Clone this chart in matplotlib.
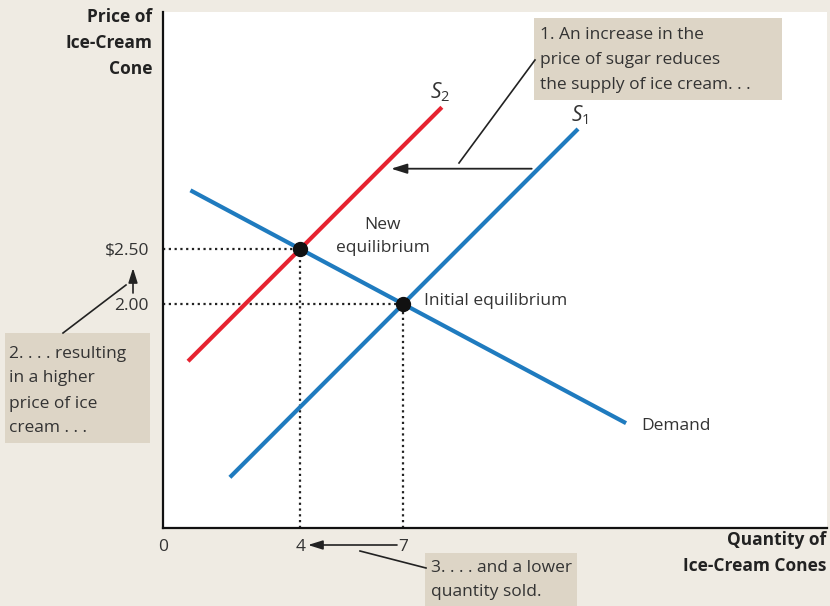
import matplotlib
matplotlib.use("Agg")
import matplotlib.pyplot as plt
from matplotlib.patches import Rectangle, FancyArrowPatch

# ---- data ----
demand_q = [0.8, 13.5]
supply1_q = [1.95, 12.1]
supply2_q = [0.73, 8.13]
eq_initial = (7, 2.00)
eq_new = (4, 2.50)
demand_slope = -1 / 6
supply_slope = 0.312
x_ticks = [0, 4, 7]
x_tick_labels = ["0", "4", "7"]
y_ticks = [2.00, 2.50]
y_tick_labels = ["2.00", "$2.50"]

def demand(q):
    return eq_initial[1] + demand_slope * (q - eq_initial[0])

def supply1(q):
    return eq_initial[1] + supply_slope * (q - eq_initial[0])

def supply2(q):
    return eq_new[1] + supply_slope * (q - eq_new[0])

W, H = 830, 606
BG = "#efebe3"
BOX = "#ddd5c6"
BLUE = "#1f7bbf"
RED = "#e62330"
TXT = "#333333"
FONT = "Open Sans"
FS = 12.5
LS = 1.75
LSB = 1.55
plt.rcParams['font.family'] = [FONT, 'DejaVu Sans']
plt.rcParams['mathtext.fontset'] = 'custom'
plt.rcParams['mathtext.it'] = 'Open Sans:italic'
plt.rcParams['mathtext.rm'] = 'Open Sans'

fig = plt.figure(figsize=(W / 100, H / 100), dpi=100, facecolor=BG)

def fp(x, y):
    """top-left pixel coords -> figure pixels"""
    return (x, H - y)

def ff(x, y):
    """top-left pixel coords -> figure fraction"""
    return (x / W, (H - y) / H)

# axes area
left, right, top, bottom = 163, 827, 12, 528
ax = fig.add_axes([left / W, (H - bottom) / H, (right - left) / W, (bottom - top) / H])
ax.set_facecolor("white")
px_per_q = 34.3
px_per_p = 110.0
ax.set_xlim(0, (right - left) / px_per_q)
ax.set_ylim(-(bottom - 524) / px_per_p, (524 - top) / px_per_p)
for s in ["top", "right"]:
    ax.spines[s].set_visible(False)
for s in ["left", "bottom"]:
    ax.spines[s].set_linewidth(1.6)
    ax.spines[s].set_color("#111111")

ax.set_xticks(x_ticks)
ax.set_xticklabels(x_tick_labels)
ax.set_yticks(y_ticks)
ax.set_yticklabels(y_tick_labels)
ax.tick_params(axis="both", length=0, labelsize=FS, colors=TXT)
ax.tick_params(axis="x", pad=8)
ax.tick_params(axis="y", pad=10)

# dotted guides
dot_style = dict(color="#222222", lw=1.6, linestyle=(0, (1, 1.6)), zorder=1)
for q, p in [eq_new, eq_initial]:
    ax.plot([0, q], [p, p], **dot_style)
    ax.plot([q, q], [ax.get_ylim()[0], p], **dot_style)

# curves
ax.plot(demand_q, [demand(q) for q in demand_q], color=BLUE, lw=3, solid_capstyle="butt", zorder=2)
ax.plot(supply1_q, [supply1(q) for q in supply1_q], color=BLUE, lw=3, solid_capstyle="butt", zorder=2)
ax.plot(supply2_q, [supply2(q) for q in supply2_q], color=RED, lw=3, solid_capstyle="butt", zorder=2)

# equilibrium points
ax.scatter([eq_new[0], eq_initial[0]], [eq_new[1], eq_initial[1]], s=100, color="#111111", zorder=4)

# curve labels
ax.text(supply2_q[1] - 0.05, supply2(supply2_q[1]) + 0.03, "$S_2$", fontsize=15, color=TXT,
        ha="center", va="bottom")
ax.text(supply1_q[1] + 0.05, supply1(supply1_q[1]) + 0.02, "$S_1$", fontsize=15, color=TXT,
        ha="center", va="bottom")

ax.text(demand_q[1] + 0.45, demand(demand_q[1]) - 0.03, "Demand", fontsize=FS, color=TXT,
        ha="left", va="center")
ax.text(eq_initial[0] + 0.6, eq_initial[1] + 0.03, "Initial equilibrium", fontsize=FS,
        color=TXT, ha="left", va="center")
ax.text(eq_new[0] + 2.4, eq_new[1] + 0.11, "New\nequilibrium", fontsize=FS, color=TXT,
        ha="center", va="center", linespacing=1.6)

# shift arrow in plot
ax.annotate("", xy=(6.65, 3.23), xytext=(10.75, 3.23),
            arrowprops=dict(arrowstyle="-|>,head_length=0.8,head_width=0.25", color="#222222",
                            lw=1.3, mutation_scale=12, shrinkA=0, shrinkB=0))

# axis titles
fig.text(*ff(152, 43), "Price of\nIce-Cream\nCone", fontsize=FS, fontweight="bold",
         color="#222222", ha="right", va="center", linespacing=LSB)
fig.text(*ff(826, 553), "Quantity of\nIce-Cream Cones", fontsize=FS, fontweight="bold",
         color="#222222", ha="right", va="center", linespacing=LSB)

# annotation boxes
def box(x0, y0, x1, y1):
    fig.patches.append(Rectangle(fp(x0, y1), x1 - x0, y1 - y0, transform=None,
                                 facecolor=BOX, edgecolor="none", zorder=0))

box(534, 18, 782, 100)
fig.text(*ff(540, 60), "1. An increase in the\nprice of sugar reduces\nthe supply of ice cream. . .",
         fontsize=FS, color=TXT, ha="left", va="center", linespacing=LS)

box(5, 333, 150, 443)
fig.text(*ff(9, 391), "2. . . . resulting\nin a higher\nprice of ice\ncream . . .",
         fontsize=FS, color=TXT, ha="left", va="center", linespacing=LS)

box(425, 553, 577, 606)
fig.text(*ff(431, 580), "3. . . . and a lower\nquantity sold.",
         fontsize=FS, color=TXT, ha="left", va="center", linespacing=LS)

# leader lines and arrows in figure pixel space
def line(p0, p1, lw=1.2):
    a, b = fp(*p0), fp(*p1)
    fig.add_artist(plt.Line2D([a[0], b[0]], [a[1], b[1]], transform=None,
                              color="#222222", lw=lw))

def arrow(p0, p1):
    fig.add_artist(FancyArrowPatch(fp(*p0), fp(*p1), transform=None,
                   arrowstyle="-|>,head_length=0.8,head_width=0.25", mutation_scale=11,
                   color="#222222", lw=1.2, shrinkA=0, shrinkB=0))

line((459, 163), (535, 60))
arrow((133, 293), (133, 268))
line((63, 333), (126, 285))
arrow((397, 545), (308, 545))
line((360, 551), (426, 568))

fig.savefig("out.png", dpi=100, facecolor=BG)
